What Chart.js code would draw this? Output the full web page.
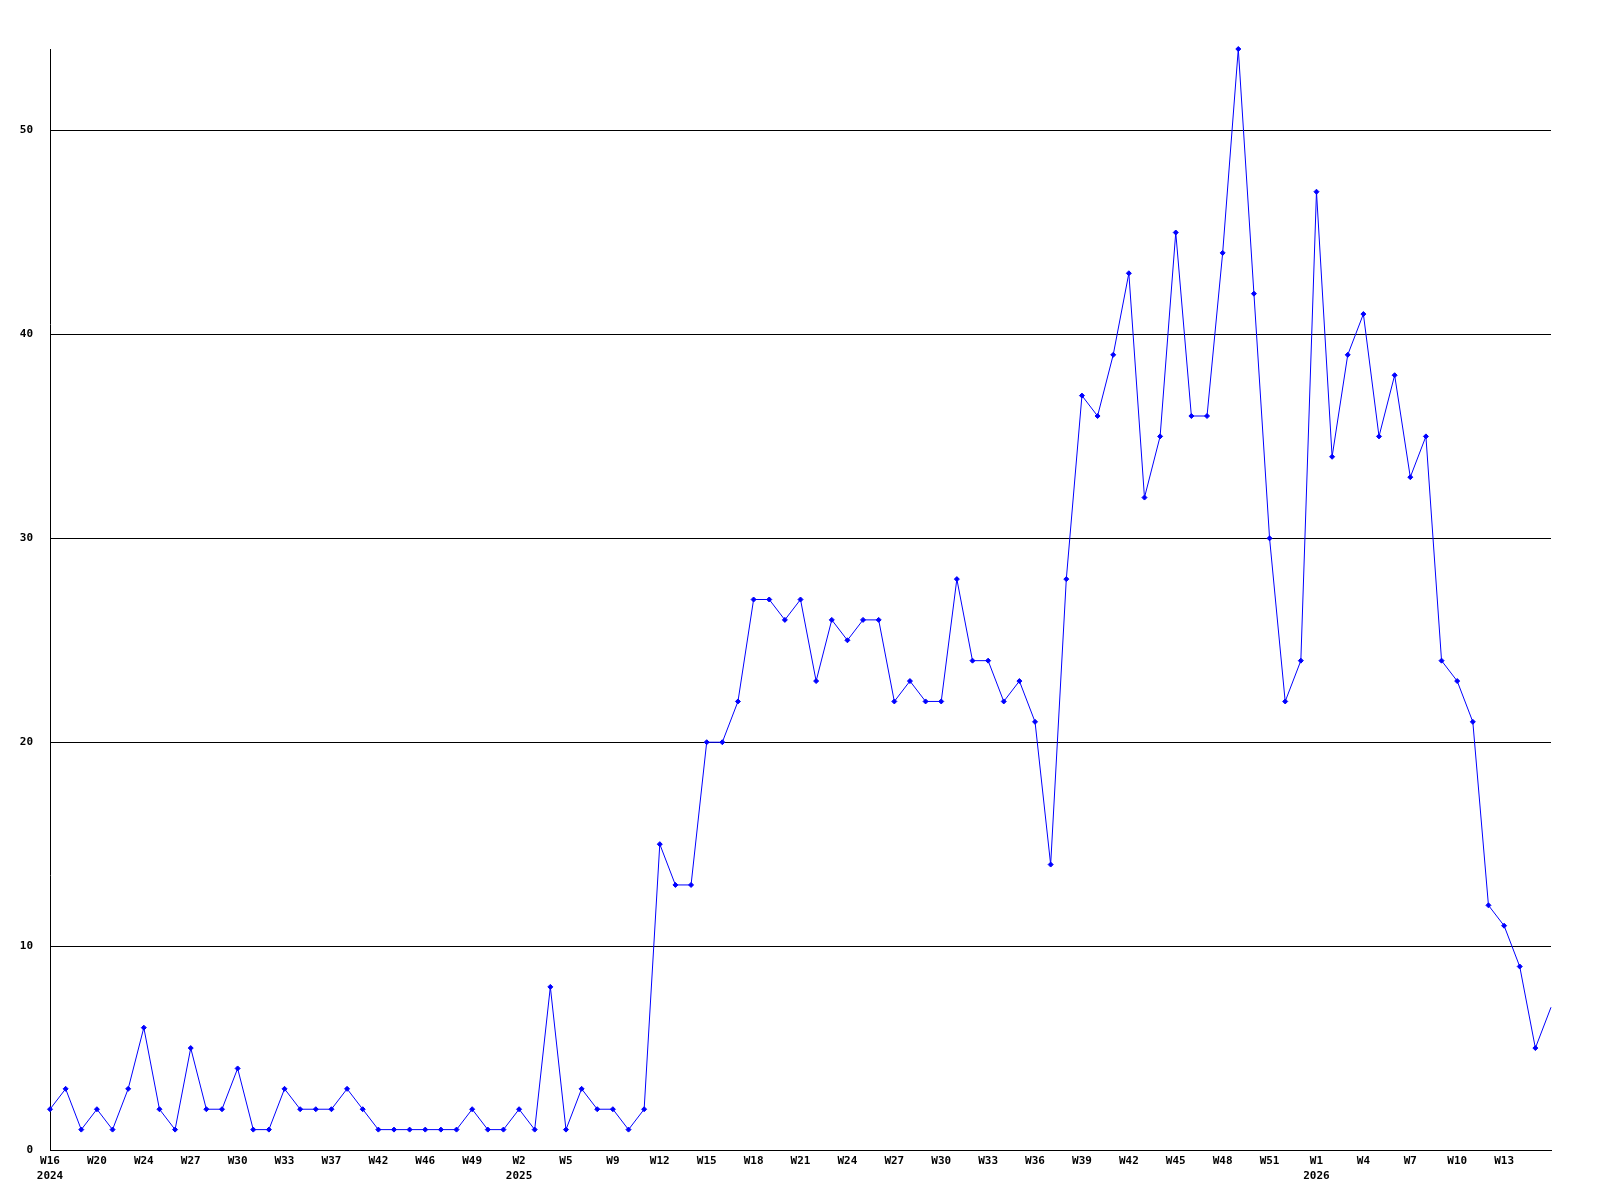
<!DOCTYPE html>
<html>
<head>
<meta charset="utf-8">
<script src="https://cdn.jsdelivr.net/npm/chart.js@4.4.1/dist/chart.umd.min.js"></script>
<style>
    html, body { margin: 0; padding: 0; background: #fff; }
    #wrap { width: 1600px; height: 1200px; }
</style>
</head>
<body>
<div id="wrap"><canvas id="weekChart" width="1600" height="1200"></canvas></div>
<script>
// one point per week, only every third label is printed
const weeks = [
    'W16', 'W17', 'W18', 'W20', 'W21', 'W22', 'W24', 'W25', 'W26', 'W27',
    'W28', 'W29', 'W30', 'W31', 'W32', 'W33', 'W34', 'W35', 'W37', 'W38',
    'W40', 'W42', 'W43', 'W44', 'W46', 'W47', 'W48', 'W49', 'W50', 'W52',
    'W2', 'W3', 'W4', 'W5', 'W6', 'W8', 'W9', 'W10', 'W11', 'W12',
    'W13', 'W14', 'W15', 'W16', 'W17', 'W18', 'W19', 'W20', 'W21', 'W22',
    'W23', 'W24', 'W25', 'W26', 'W27', 'W28', 'W29', 'W30', 'W31', 'W32',
    'W33', 'W34', 'W35', 'W36', 'W37', 'W38', 'W39', 'W40', 'W41', 'W42',
    'W43', 'W44', 'W45', 'W46', 'W47', 'W48', 'W49', 'W50', 'W51', 'W52',
    'W53', 'W1', 'W2', 'W3', 'W4', 'W5', 'W6', 'W7', 'W8', 'W9',
    'W10', 'W11', 'W12', 'W13', 'W14', 'W15', 'W16'
];

// index of the first week of each year
const yearStarts = [0, 30, 81];
const yearNames = ['2024', '2025', '2026'];

const counts = [
    2, 3, 1, 2, 1, 3, 6, 2, 1, 5,
    2, 2, 4, 1, 1, 3, 2, 2, 2, 3,
    2, 1, 1, 1, 1, 1, 1, 2, 1, 1,
    2, 1, 8, 1, 3, 2, 2, 1, 2, 15,
    13, 13, 20, 20, 22, 27, 27, 26, 27, 23,
    26, 25, 26, 26, 22, 23, 22, 22, 28, 24,
    24, 22, 23, 21, 14, 28, 37, 36, 39, 43,
    32, 35, 45, 36, 36, 44, 54, 42, 30, 22,
    24, 47, 34, 39, 41, 35, 38, 33, 35, 24,
    23, 21, 12, 11, 9, 5, 7
];

const yTicks = [0, 10, 20, 30, 40, 50];
const yMax = 54;

const labelFont = { family: 'DejaVu Sans Mono', size: 11, weight: 'bold', lineHeight: 1.36 };

const ctx = document.getElementById('weekChart').getContext('2d');

new Chart(ctx, {
    type: 'line',
    data: {
        labels: weeks,
        datasets: [{
            data: counts,
            clip: false,
            borderColor: '#0000ff',
            backgroundColor: '#0000ff',
            borderWidth: 1,
            tension: 0,
            pointStyle: 'rectRot',
            pointRadius: c => (c.dataIndex === counts.length - 1 ? 0 : 2.5),
            pointBorderWidth: 1,
            pointBorderColor: '#0000ff',
            pointBackgroundColor: '#0000ff'
        }]
    },
    options: {
        responsive: false,
        animation: false,
        layout: { padding: { top: 49, right: 49, left: 0, bottom: 0 } },
        plugins: {
            legend: { display: false },
            tooltip: { enabled: false }
        },
        scales: {
            x: {
                offset: false,
                grid: { display: false, drawTicks: false },
                border: { display: true, color: '#000', width: 1 },
                ticks: {
                    autoSkip: false,
                    maxRotation: 0,
                    minRotation: 0,
                    padding: 4,
                    color: '#000',
                    font: labelFont,
                    callback: function(value, index) {
                        if (index % 3 !== 0 || index >= counts.length - 1) return null;
                        const y = yearStarts.indexOf(index);
                        if (y >= 0) return [weeks[index], yearNames[y]];
                        return weeks[index];
                    }
                },
                afterFit: function(scale) { scale.height = 50; }
            },
            y: {
                min: 0,
                max: yMax,
                grid: { color: '#000', lineWidth: 1, drawTicks: false },
                border: { display: true, color: '#000', width: 1 },
                ticks: {
                    stepSize: 10,
                    includeBounds: false,
                    padding: 17,
                    color: '#000',
                    font: labelFont,
                    callback: v => (yTicks.includes(v) ? String(v) : null)
                },
                afterFit: function(scale) { scale.width = 50; }
            }
        }
    }
});
</script>
</body>
</html>
